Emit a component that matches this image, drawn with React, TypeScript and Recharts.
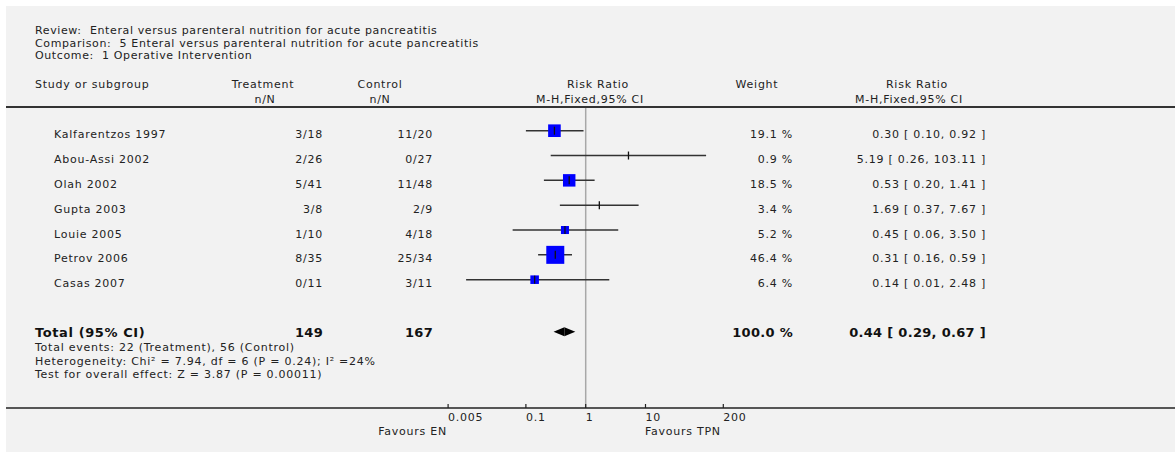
import React from 'react';
import {
  ComposedChart,
  Scatter,
  ErrorBar,
  XAxis,
  YAxis,
  ReferenceLine,
} from 'recharts';

// ---------- data ----------
const studies = [
  'Kalfarentzos 1997',
  'Abou-Assi 2002',
  'Olah 2002',
  'Gupta 2003',
  'Louie 2005',
  'Petrov 2006',
  'Casas 2007',
];
const treatmentNN = ['3/18', '2/26', '5/41', '3/8', '1/10', '8/35', '0/11'];
const controlNN = ['11/20', '0/27', '11/48', '2/9', '4/18', '25/34', '3/11'];
const riskRatio = [0.3, 5.19, 0.53, 1.69, 0.45, 0.31, 0.14];
const ciLow = [0.1, 0.26, 0.2, 0.37, 0.06, 0.16, 0.01];
const ciHigh = [0.92, 103.11, 1.41, 7.67, 3.5, 0.59, 2.48];
const weights = [19.1, 0.9, 18.5, 3.4, 5.2, 46.4, 6.4];

const totalTreatment = 149;
const totalControl = 167;
const totalWeight = 100.0;
const totalRR = 0.44;
const totalLow = 0.29;
const totalHigh = 0.67;

const xTicks = [0.005, 0.1, 1, 10, 200];

const headerLines = [
  'Review:  Enteral versus parenteral nutrition for acute pancreatitis',
  'Comparison:  5 Enteral versus parenteral nutrition for acute pancreatitis',
  'Outcome:  1 Operative Intervention',
];
const footerLines = [
  'Total events: 22 (Treatment), 56 (Control)',
  'Heterogeneity: Chi\u00B2 = 7.94, df = 6 (P = 0.24); I\u00B2 =24%',
  'Test for overall effect: Z = 3.87 (P = 0.00011)',
];
const favoursLeft = 'Favours EN';
const favoursRight = 'Favours TPN';

// ---------- layout ----------
const W = 1175;
const H = 452;
const PLOT_LEFT = 6;
const PLOT_TOP = 107;
const AXIS_Y = 408;
const FIRST_ROW_Y = 130.7;
const ROW_H = 24.83;
const TOTAL_ROW = 8.1;
const X_AXIS_H = 30;
const PX_PER_DECADE = 59.8;
const X_ONE = 585.7;

const yDomain = [
  (PLOT_TOP - FIRST_ROW_Y) / ROW_H,
  (AXIS_Y - FIRST_ROW_Y) / ROW_H,
];
const xDomain = [
  Math.pow(10, (PLOT_LEFT - X_ONE) / PX_PER_DECADE),
  Math.pow(10, (W - X_ONE) / PX_PER_DECADE),
];

const FONT = '"DejaVu Sans", sans-serif';
const TXT = '#222';
const FS = 11;
const LS = 0.75;
const PRE = { whiteSpace: 'pre' as const };

const points = studies.map((name, i) => ({
  name,
  x: riskRatio[i],
  y: i,
  w: weights[i],
  err: [riskRatio[i] - ciLow[i], ciHigh[i] - riskRatio[i]],
}));

const textRows = [
  ...studies.map((_, i) => ({ x: 1, y: i, row: i })),
  { x: 1, y: TOTAL_ROW, row: -1 },
];

const fmtCI = (r: number, l: number, h: number) =>
  `${r.toFixed(2)} [ ${l.toFixed(2)}, ${h.toFixed(2)} ]`;

const COL_NAME = 54;
const COL_LEFT = 35;
const COL_TREAT = 323;
const COL_CTRL = 433;
const COL_WEIGHT = 793;
const COL_CI = 986;

const RowText = (props: any) => {
  const { cy, payload } = props;
  const i = payload.row;
  if (i < 0) {
    const by = cy + 5.5;
    return (
      <g fontFamily={FONT} fontSize={13} fontWeight="bold" fill="#111" letterSpacing={0.3}>
        <text x={COL_LEFT} y={by} letterSpacing={0.6} style={PRE}>Total (95% CI)</text>
        <text x={COL_TREAT} y={by} textAnchor="end">{totalTreatment}</text>
        <text x={COL_CTRL} y={by} textAnchor="end">{totalControl}</text>
        <text x={COL_WEIGHT} y={by} textAnchor="end" style={PRE}>{`${totalWeight.toFixed(1)} %`}</text>
        <text x={COL_CI} y={by} textAnchor="end" style={PRE}>{fmtCI(totalRR, totalLow, totalHigh)}</text>
      </g>
    );
  }
  const by = cy + 7.5;
  return (
    <g fontFamily={FONT} fontSize={FS} fill={TXT} letterSpacing={LS}>
      <text x={COL_NAME} y={by}>{studies[i]}</text>
      <text x={COL_TREAT} y={by} textAnchor="end">{treatmentNN[i]}</text>
      <text x={COL_CTRL} y={by} textAnchor="end">{controlNN[i]}</text>
      <text x={COL_WEIGHT} y={by} textAnchor="end" style={PRE}>{`${weights[i].toFixed(1)} %`}</text>
      <text x={COL_CI} y={by} textAnchor="end" style={PRE}>{fmtCI(riskRatio[i], ciLow[i], ciHigh[i])}</text>
    </g>
  );
};

const AxisTick = (props: any) => {
  const { x, y, payload } = props;
  return (
    <g>
      <line x1={x} y1={y - 4} x2={x} y2={y} stroke="#222" strokeWidth={1.2} />
      <text
        x={x}
        y={y + 12.5}
        textAnchor="start"
        fontFamily={FONT}
        fontSize={FS}
        fill={TXT}
        letterSpacing={LS}
      >
        {String(payload.value)}
      </text>
    </g>
  );
};

const StudyMark = (props: any) => {
  const { cx, cy, payload } = props;
  const w = payload.w;
  const side = w >= 4 ? 2.2 * Math.sqrt(w) + 3 : 0;
  return (
    <g>
      {side > 0 && (
        <rect x={cx - side / 2} y={cy - side / 2} width={side} height={side} fill="#0000ff" />
      )}
      <line x1={cx} y1={cy - 4} x2={cx} y2={cy + 4} stroke="#111" strokeWidth={1.3} />
    </g>
  );
};

const DiamondLeft = (p: any) => (
  <polygon
    points={`${p.x1},${p.y1} ${p.x2},${p.y1 - 4.5} ${p.x2},${p.y1 + 4.5}`}
    fill="#000"
  />
);
const DiamondRight = (p: any) => (
  <polygon
    points={`${p.x1},${p.y1 - 4.5} ${p.x2},${p.y1} ${p.x1},${p.y1 + 4.5}`}
    fill="#000"
  />
);

const Overlay = () => (
  <svg
    width={W}
    height={H}
    style={{ position: 'absolute', left: 0, top: 0, pointerEvents: 'none' }}
  >
    <g fontFamily={FONT} fontSize={FS} fill={TXT} letterSpacing={LS}>
      {headerLines.map((t, i) => (
        <text key={t} x={COL_LEFT} y={34 + i * 12.5} letterSpacing={0.62} style={PRE}>{t}</text>
      ))}
      <text x={COL_LEFT} y={88}>Study or subgroup</text>
      <text x={263} y={88} textAnchor="middle">Treatment</text>
      <text x={380} y={88} textAnchor="middle">Control</text>
      <text x={598} y={88} textAnchor="middle">Risk Ratio</text>
      <text x={757} y={88} textAnchor="middle">Weight</text>
      <text x={917} y={88} textAnchor="middle">Risk Ratio</text>
      <text x={265} y={102.5} textAnchor="middle">n/N</text>
      <text x={380} y={102.5} textAnchor="middle">n/N</text>
      <text x={590} y={102.5} textAnchor="middle">M-H,Fixed,95% CI</text>
      <text x={909} y={102.5} textAnchor="middle">M-H,Fixed,95% CI</text>
      {footerLines.map((t, i) => (
        <text key={t} x={COL_LEFT} y={351 + i * 13.5} style={PRE}>{t}</text>
      ))}
      <text x={447} y={434.5} textAnchor="end">{favoursLeft}</text>
      <text x={645} y={434.5} textAnchor="start">{favoursRight}</text>
    </g>
  </svg>
);

export default function App() {
  return (
    <div style={{ position: 'absolute', left: 0, top: 0, width: W, height: H, background: '#fff' }}>
      <div
        style={{
          position: 'absolute',
          left: 6,
          top: 6,
          width: W - 6,
          height: H - 6,
          background: '#f2f2f2',
        }}
      />
      <div style={{ position: 'absolute', left: 0, top: 0 }}>
        <ComposedChart
          width={W}
          height={H}
          margin={{ top: PLOT_TOP, right: 0, left: PLOT_LEFT, bottom: H - AXIS_Y - X_AXIS_H }}
        >
          <XAxis
            type="number"
            dataKey="x"
            scale="log"
            domain={xDomain}
            allowDataOverflow
            ticks={xTicks}
            interval={0}
            height={X_AXIS_H}
            tickSize={0}
            tickMargin={0}
            tickLine={false}
            axisLine={{ stroke: '#222', strokeWidth: 1.5 }}
            tick={<AxisTick />}
          />
          <YAxis
            type="number"
            dataKey="y"
            domain={yDomain}
            reversed
            allowDataOverflow
            width={0}
            hide
          />
          <ReferenceLine x={1} stroke="#a8a8a8" strokeWidth={1.5} />
          <ReferenceLine y={yDomain[0]} stroke="#333" strokeWidth={2} />
          <Scatter
            data={textRows}
            isAnimationActive={false}
            shape={<RowText />}
          />
          <Scatter data={points} isAnimationActive={false} shape={<StudyMark />}>
            <ErrorBar
              dataKey="err"
              direction="x"
              width={0}
              stroke="#333"
              strokeWidth={1.5}
              isAnimationActive={false}
            />
          </Scatter>
          <ReferenceLine
            segment={[
              { x: totalLow, y: TOTAL_ROW },
              { x: totalRR, y: TOTAL_ROW },
            ]}
            shape={DiamondLeft}
          />
          <ReferenceLine
            segment={[
              { x: totalRR, y: TOTAL_ROW },
              { x: totalHigh, y: TOTAL_ROW },
            ]}
            shape={DiamondRight}
          />
        </ComposedChart>
      </div>
      <Overlay />
    </div>
  );
}
